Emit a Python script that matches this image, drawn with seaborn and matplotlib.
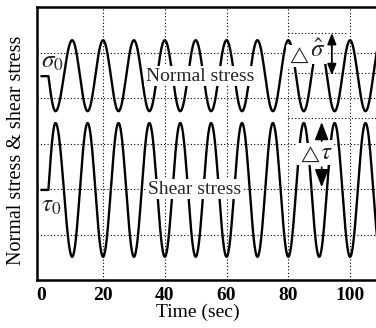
import numpy as np
import pandas as pd
import matplotlib
matplotlib.use("Agg")
import matplotlib.pyplot as plt
import seaborn as sns

# Turning points of the cyclic loading history: time (s) and stress level
normal_times = [0, 2.3, 4.6, 10, 15, 20, 25, 30, 35, 40, 45, 50, 55, 60,
                65, 70, 75, 80, 85, 90, 95, 100, 105, 110]
normal_values = [4.48, 4.48, 3.71, 5.27, 3.71, 5.27, 3.71, 5.27, 3.71, 5.27,
                 3.71, 5.27, 3.71, 5.27, 3.71, 5.27, 3.71, 5.27, 3.71, 5.27,
                 3.71, 5.27, 3.71, 5.27]

shear_times = [0, 2.3, 4.6, 10, 15, 20, 25, 30, 35, 40, 45, 50, 55, 60,
               65, 70, 75, 80, 85, 90, 95, 100, 105, 110]
shear_values = [1.98, 1.98, 3.45, 0.51, 3.45, 0.51, 3.45, 0.51, 3.45, 0.51,
                3.45, 0.51, 3.45, 0.51, 3.45, 0.51, 3.45, 0.51, 3.45, 0.51,
                3.45, 0.51, 3.45, 0.51]

x_ticks = [0, 20, 40, 60, 80, 100]
y_grid = [1, 2, 3, 4, 5]

sigma0 = 4.48
tau0 = 1.98
sigma_peak = 5.43
tau_peak = 3.55


def wave_path(times, values, n=40):
    """Trace a sinusoidal path through successive turning points."""
    ts, vs = [times[0]], [values[0]]
    for i in range(1, len(times)):
        t0, t1 = times[i - 1], times[i]
        v0, v1 = values[i - 1], values[i]
        u = np.linspace(0, 1, n)[1:]
        if v0 == v1:                      # resting at the static level
            shape = u
        elif i >= 2 and values[i - 2] == v0:  # leaving rest: quarter wave
            shape = np.sin(0.5 * np.pi * u)
        else:                             # half wave between extremes
            shape = 0.5 - 0.5 * np.cos(np.pi * u)
        ts.extend(t0 + (t1 - t0) * u)
        vs.extend(v0 + (v1 - v0) * shape)
    return ts, vs


nt, nv = wave_path(normal_times, normal_values)
st, sv = wave_path(shear_times, shear_values)
df = pd.DataFrame({
    "time": list(nt) + list(st),
    "stress": list(nv) + list(sv),
    "series": ["normal"] * len(nt) + ["shear"] * len(st),
})

sns.set_theme(style="white")
plt.rcParams["font.family"] = ["Liberation Serif", "DejaVu Serif"]
plt.rcParams["mathtext.fontset"] = "stix"

fig = plt.figure(figsize=(3.76, 3.28), dpi=100)
ax = fig.add_axes([37 / 376, 48 / 328, 339 / 376, 273 / 328])

sns.lineplot(data=df, x="time", y="stress", units="series", estimator=None,
             sort=False, color="black", lw=1.7, ax=ax, zorder=3)

ax.set_xlim(-1.4, 108.4)
ax.set_ylim(0, 6)

# dotted reference grid
dot = (0, (1, 2))
for gx in x_ticks[1:]:
    ax.axvline(gx, color="black", lw=0.8, ls=dot, zorder=1)
for gy in y_grid:
    ax.axhline(gy, color="black", lw=0.8, ls=dot, zorder=1)

# amplitude guide lines
ax.hlines(sigma_peak, 80, 99, color="black", lw=0.8, ls=dot, zorder=1)
ax.hlines(sigma0 + 0.08, 80, 108.4, color="black", lw=0.8, ls=dot, zorder=1)
ax.hlines(tau_peak, 80, 108.4, color="black", lw=0.8, ls=dot, zorder=1)

ax.set_xticks(x_ticks)
ax.set_xticklabels([str(v) for v in x_ticks], fontsize=14, fontweight="bold")
ax.set_yticks(y_grid)
ax.set_yticklabels([])
ax.tick_params(axis="both", direction="in", length=4, width=1, color="black",
               pad=5, labelcolor="black")
ax.tick_params(axis="x", length=0)

for side in ["left", "bottom", "top"]:
    ax.spines[side].set_visible(True)
    ax.spines[side].set_color("black")
    ax.spines[side].set_linewidth(1.8)
ax.spines["right"].set_visible(False)

ax.set_xlabel("Time (sec)", fontsize=14, color="black")
ax.xaxis.set_label_coords(0.475, -0.088)
ax.set_ylabel("Normal stress & shear stress", fontsize=14.5, color="black")
ax.yaxis.set_label_coords(-0.032, 0.474)

box = dict(facecolor="white", edgecolor="none", pad=1.0)
ax.text(51.3, 4.48, "Normal stress", fontsize=14, ha="center", va="center",
        bbox=box, zorder=5)
ax.text(49.7, 2.0, "Shear stress", fontsize=14, ha="center", va="center",
        bbox=box, zorder=5)
ax.text(0.0, 4.8, r"$\sigma_{\mathit{0}}$", fontsize=18, ha="left",
        va="center", zorder=5)
ax.text(0.0, 1.62, r"$\tau_{\mathit{0}}$", fontsize=18, ha="left",
        va="center", zorder=5)

# amplitude of the normal stress
ax.text(89.4, 5.05, r"$\hat{\sigma}$", fontsize=18, ha="center",
        va="center", bbox=dict(facecolor="white", edgecolor="none", pad=2.0),
        zorder=5)
ax.text(83.4, 4.93, r"$\triangle$", fontsize=12, ha="center", va="center",
        bbox=dict(facecolor="white", edgecolor="none", pad=1.0), zorder=5)
ax.annotate("", xy=(94.1, sigma_peak), xytext=(94.1, sigma0 + 0.02),
            arrowprops=dict(arrowstyle="<|-|>,head_length=0.55,head_width=0.22",
                            color="black", lw=1.3, shrinkA=0, shrinkB=0),
            zorder=6)

# amplitude of the shear stress
ax.text(92.4, 2.80, r"$\tau$", fontsize=18, ha="center", va="center",
        bbox=dict(facecolor="white", edgecolor="none", pad=1.0), zorder=5)
ax.text(86.9, 2.76, r"$\triangle$", fontsize=12, ha="center", va="center",
        bbox=dict(facecolor="white", edgecolor="none", pad=1.0), zorder=5)
ax.annotate("", xy=(90.8, 3.47), xytext=(90.8, 3.05),
            arrowprops=dict(arrowstyle="-|>,head_length=0.9,head_width=0.35",
                            color="black", lw=1.2, shrinkA=0, shrinkB=0),
            zorder=6)
ax.annotate("", xy=(90.8, 2.04), xytext=(90.8, 2.48),
            arrowprops=dict(arrowstyle="-|>,head_length=0.9,head_width=0.35",
                            color="black", lw=1.2, shrinkA=0, shrinkB=0),
            zorder=6)

fig.savefig("out.png", dpi=100)
